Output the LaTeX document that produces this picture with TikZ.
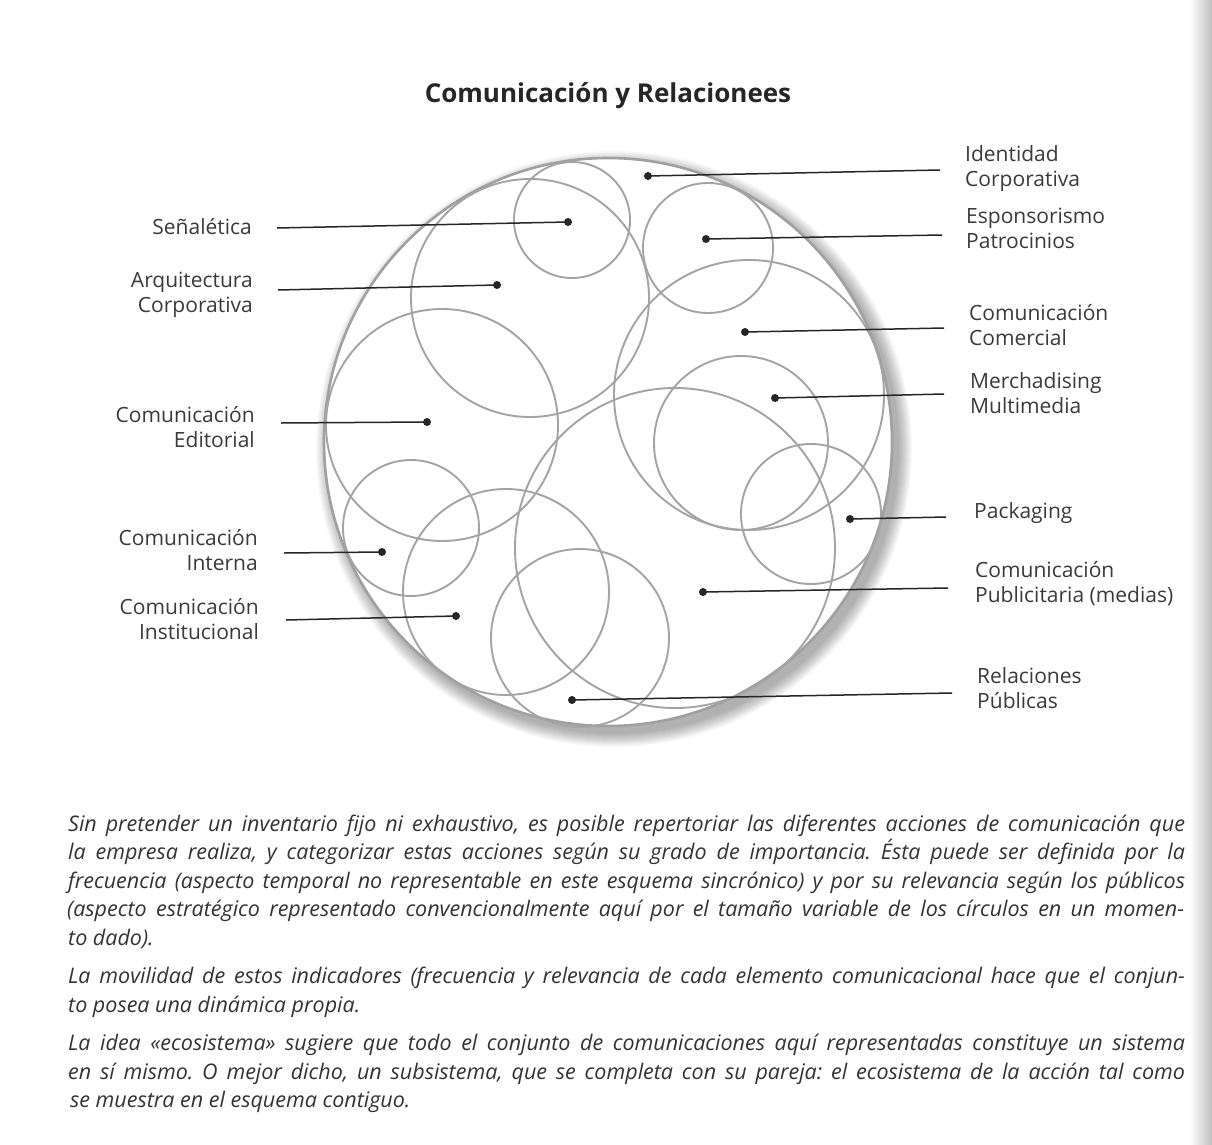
\documentclass[tikz,border=0pt]{standalone}
\usepackage{fontspec}
\usepackage{graphicx}
\newfontfamily\labf{Open Sans}
\newfontfamily\bodyf{Open Sans}
\usetikzlibrary{shadings}
\definecolor{ringgray}{HTML}{A4A4A4}
\definecolor{outergray}{HTML}{A0A0A0}
\definecolor{inkc}{HTML}{262626}
\definecolor{labc}{HTML}{3A3A3A}
\definecolor{bodyc}{HTML}{333333}
\newsavebox\jbox
\newcommand\jline[1]{\sbox\jbox{#1}\ifdim\wd\jbox>1117pt\resizebox{1117pt}{\height}{\usebox\jbox}\else\makebox[1117pt][s]{#1}\fi}
\begin{document}
\begin{tikzpicture}[x=1pt,y=-1pt,
  ring/.style={draw=ringgray, line width=1.9pt},
  outer/.style={draw=outergray, line width=2.6pt, fill=white},
  leader/.style={draw=inkc, line width=1.5pt},
  dot/.style={circle, fill=inkc, inner sep=0pt, minimum size=8pt},
  lblR/.style={anchor=west, align=left, inner sep=0pt, text=labc, font=\labf\fontsize{21}{25}\selectfont},
  lblL/.style={anchor=east, align=right, inner sep=0pt, text=labc, font=\labf\fontsize{21}{25}\selectfont},
  body/.style={anchor=base west, inner sep=0pt, text=bodyc, font=\bodyf\itshape\frenchspacing\fontsize{21.5}{25}\selectfont},
  titlef/.style={inner sep=0pt, text=black!85, font=\labf\bfseries\fontsize{26}{30}\selectfont}
]
\useasboundingbox (0,0) rectangle (1212,1145);
\fill[white] (0,0) rectangle (1212,1145);
\shade[left color=white, right color=black!25] (1190,0) rectangle (1212,1145);

% title
\node[titlef] (title) at (608,96) {Comunicación y Relacionees};

% shadow of the big circle
\foreach \r in {285,...,298} {\fill[black, opacity=0.022] (614,449) circle (\r pt);}
% big circle (Identidad Corporativa)
\draw[outer] (608,442) circle (284pt);

% inner circles
\draw[ring] (572,220) circle (58pt);   % Senaletica
\draw[ring] (708,248) circle (65pt);   % Esponsorismo
\draw[ring] (530,298) circle (119pt);  % Arquitectura
\draw[ring] (749,395) circle (135pt);  % Comercial
\draw[ring] (741,443) circle (87pt);   % Merchadising
\draw[ring] (442,425) circle (116pt);  % Editorial
\draw[ring] (811,514) circle (70pt);   % Packaging
\draw[ring] (675,548) circle (160pt);  % Publicitaria
\draw[ring] (411,528) circle (68pt);   % Interna
\draw[ring] (506,592) circle (103pt);  % Institucional
\draw[ring] (580,638) circle (89pt);   % Relaciones

% dots
\node[dot] (dIden) at (648,176) {};
\node[dot] (dSen)  at (568,222) {};
\node[dot] (dEsp)  at (706,239) {};
\node[dot] (dArq)  at (497,285) {};
\node[dot] (dCom)  at (745,332) {};
\node[dot] (dMer)  at (775,398) {};
\node[dot] (dEdi)  at (427,422) {};
\node[dot] (dPac)  at (850,519) {};
\node[dot] (dInt)  at (382,552) {};
\node[dot] (dPub)  at (703,592) {};
\node[dot] (dIns)  at (456,616) {};
\node[dot] (dRel)  at (572,700) {};

% leader ends
\coordinate (eIden) at (940,170);
\coordinate (eSen)  at (277,228);
\coordinate (eEsp)  at (942,235);
\coordinate (eArq)  at (278,290);
\coordinate (eCom)  at (944,328);
\coordinate (eMer)  at (944,394);
\coordinate (eEdi)  at (281,423);
\coordinate (ePac)  at (946,517);
\coordinate (eInt)  at (284,553);
\coordinate (ePub)  at (948,588);
\coordinate (eIns)  at (286,620);
\coordinate (eRel)  at (952,693);

\foreach \n in {Iden,Sen,Esp,Arq,Com,Mer,Edi,Pac,Int,Pub,Ins,Rel}
  {\draw[leader] (d\n.center) -- (e\n);}

% labels right
\node[lblR] (lIden) at (965,168.5) {Identidad\\Corporativa};
\node[lblR] (lEsp)  at (966,228.5) {Esponsorismo\\Patrocinios};
\node[lblR] (lCom)  at (969,325.5) {Comunicación\\Comercial};
\node[lblR] (lMer)  at (970,393.5) {Merchadising\\Multimedia};
\node[lblR] (lPac)  at (974,513)   {Packaging};
\node[lblR] (lPub)  at (975,583.5) {Comunicación\\Publicitaria (medias)};
\node[lblR] (lRel)  at (977,688)   {Relaciones\\Públicas};
% labels left
\node[lblL] (lSen)  at (252,227)   {Señalética};
\node[lblL] (lArq)  at (253,295)   {Arquitectura\\Corporativa};
\node[lblL] (lEdi)  at (255,427.5) {Comunicación\\Editorial};
\node[lblL] (lInt)  at (258,550)   {Comunicación\\Interna};
\node[lblL] (lIns)  at (259,619.5) {Comunicación\\Institucional};

% body text
\node[body] (t1)  at (68,831)    {\jline{Sin pretender un inventario fijo ni exhaustivo, es posible repertoriar las diferentes acciones de comunicación que}};
\node[body] (t2)  at (68,859.5)  {\jline{la empresa realiza, y categorizar estas acciones según su grado de importancia. Ésta puede ser definida por la}};
\node[body] (t3)  at (68,888)    {\jline{frecuencia (aspecto temporal no representable en este esquema sincrónico) y por su relevancia según los públicos}};
\node[body] (t4)  at (67,916.5)  {\jline{(aspecto estratégico representado convencionalmente aquí por el tamaño variable de los círculos en un momen-}};
\node[body] (t5)  at (68,945)    {to dado).};
\node[body] (t6)  at (68,983.5)  {\jline{La movilidad de estos indicadores (frecuencia y relevancia de cada elemento comunicacional hace que el conjun-}};
\node[body] (t7)  at (68,1012)   {to posea una dinámica propia.};
\node[body] (t8)  at (68,1050.5) {\jline{La idea «ecosistema» sugiere que todo el conjunto de comunicaciones aquí representadas constituye un sistema}};
\node[body] (t9)  at (68,1079)   {\jline{en sí mismo. O mejor dicho, un subsistema, que se completa con su pareja: el ecosistema de la acción tal como}};
\node[body] (t10) at (70,1107.5) {se muestra en el esquema contiguo.};
\end{tikzpicture}
\end{document}
